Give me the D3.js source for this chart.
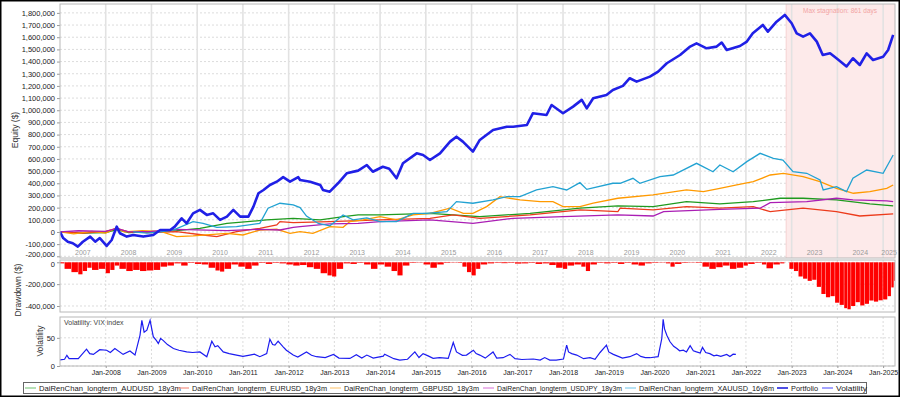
<!DOCTYPE html>
<html>
<head>
<meta charset="utf-8">
<script src="https://cdn.jsdelivr.net/npm/d3@7"></script>
<style>
body { margin: 0; background: #fff; }
text { font-family: "Liberation Sans", Arial, sans-serif; }
</style>
</head>
<body>
<div id="chart"></div>
<script>
// values, [decimal year, $]
const portfolio = [[2007.0,0],[2007.07,-50000],[2007.17,-80000],[2007.28,-93000],[2007.39,-120000],[2007.5,-80000],[2007.66,-38000],[2007.77,-80000],[2007.87,-50000],[2008.02,-115000],[2008.13,-66000],[2008.24,44000],[2008.31,-11000],[2008.46,-38000],[2008.6,-25000],[2008.82,-38000],[2009.04,-25000],[2009.19,16000],[2009.41,16000],[2009.51,44000],[2009.66,112000],[2009.77,71000],[2009.91,153000],[2010.06,181000],[2010.21,140000],[2010.35,153000],[2010.5,99000],[2010.65,126000],[2010.79,181000],[2010.94,126000],[2011.12,126000],[2011.23,208000],[2011.34,318000],[2011.45,345000],[2011.59,386000],[2011.74,413000],[2011.88,450000],[2012.03,413000],[2012.21,450000],[2012.25,427000],[2012.47,413000],[2012.69,386000],[2012.75,345000],[2012.9,331000],[2013.08,400000],[2013.27,482000],[2013.52,504000],[2013.71,550000],[2013.84,495000],[2014.06,536000],[2014.2,520000],[2014.36,441000],[2014.5,564000],[2014.8,646000],[2014.94,632000],[2015.09,591000],[2015.31,646000],[2015.53,742000],[2015.67,783000],[2015.81,742000],[2016.03,660000],[2016.18,756000],[2016.47,838000],[2016.77,865000],[2016.91,865000],[2017.21,879000],[2017.34,975000],[2017.64,961000],[2017.75,1043000],[2018.0,975000],[2018.22,1030000],[2018.41,1085000],[2018.52,1016000],[2018.66,1098000],[2018.95,1126000],[2019.09,1167000],[2019.31,1200000],[2019.46,1263000],[2019.61,1235000],[2019.9,1276000],[2020.08,1317000],[2020.27,1386000],[2020.56,1454000],[2020.78,1523000],[2020.92,1550000],[2021.14,1509000],[2021.36,1523000],[2021.47,1556000],[2021.58,1495000],[2021.87,1528000],[2022.02,1564000],[2022.15,1632000],[2022.37,1701000],[2022.48,1646000],[2022.67,1728000],[2022.85,1783000],[2023.0,1715000],[2023.11,1632000],[2023.25,1605000],[2023.4,1632000],[2023.55,1564000],[2023.68,1454000],[2023.84,1468000],[2023.98,1427000],[2024.2,1360000],[2024.34,1427000],[2024.49,1372000],[2024.64,1468000],[2024.78,1413000],[2025.0,1440000],[2025.11,1495000],[2025.22,1619000]];

const audusd = [[2007.0,0],[2007.5,-10000],[2008.0,-5000],[2008.24,20000],[2008.5,-5000],[2009.0,0],[2009.55,11000],[2010.06,30000],[2010.65,71000],[2011.1,85000],[2011.52,99000],[2012.1,112000],[2012.69,99000],[2013.2,126000],[2013.52,140000],[2014.0,140000],[2015.09,153000],[2016.18,126000],[2017.28,153000],[2018.37,195000],[2019.2,214000],[2019.97,208000],[2020.7,249000],[2021.43,230000],[2022.16,249000],[2022.75,277000],[2023.25,277000],[2023.98,263000],[2024.71,230000],[2025.22,214000]];

const eurusd = [[2007.0,0],[2007.5,-10000],[2008.0,5000],[2008.24,30000],[2008.5,0],[2009.0,-5000],[2009.55,3000],[2010.13,-25000],[2010.43,-38000],[2010.86,3000],[2011.37,30000],[2011.74,58000],[2011.81,85000],[2012.1,77000],[2012.9,85000],[2014.0,99000],[2015.09,112000],[2015.6,140000],[2016.18,112000],[2017.28,140000],[2018.37,181000],[2019.2,167000],[2019.25,195000],[2019.97,181000],[2020.7,208000],[2021.43,195000],[2022.16,208000],[2022.53,167000],[2023.25,195000],[2023.98,167000],[2024.49,131000],[2025.22,148000]];

const gbpusd = [[2007.0,0],[2007.3,-15000],[2007.7,5000],[2008.0,-10000],[2008.24,35000],[2008.4,0],[2008.8,10000],[2009.2,5000],[2009.55,-38000],[2009.91,-33000],[2010.65,-11000],[2011.0,-25000],[2011.37,16000],[2011.74,22000],[2012.03,-11000],[2012.25,3000],[2012.53,-11000],[2012.9,44000],[2013.19,38000],[2013.34,85000],[2013.63,99000],[2014.0,126000],[2014.36,99000],[2014.72,140000],[2015.09,153000],[2015.53,195000],[2015.82,153000],[2016.03,153000],[2016.33,208000],[2016.62,290000],[2017.06,263000],[2017.5,249000],[2017.78,249000],[2018.0,208000],[2018.37,208000],[2018.66,236000],[2019.2,277000],[2019.97,304000],[2020.7,345000],[2021.07,331000],[2021.43,359000],[2021.8,386000],[2022.16,413000],[2022.53,468000],[2022.82,482000],[2023.25,454000],[2023.62,413000],[2023.98,359000],[2024.35,318000],[2024.71,331000],[2025.08,359000],[2025.22,386000]];

const usdjpy = [[2007.0,0],[2007.4,10000],[2008.0,5000],[2008.24,30000],[2008.5,0],[2009.0,5000],[2009.55,22000],[2010.65,11000],[2011.37,22000],[2011.81,16000],[2012.1,38000],[2012.25,44000],[2012.9,66000],[2013.52,71000],[2014.0,85000],[2015.09,99000],[2016.03,71000],[2016.91,112000],[2018.0,126000],[2019.2,140000],[2019.97,131000],[2020.2,167000],[2021.43,186000],[2022.31,195000],[2022.53,241000],[2023.33,249000],[2023.98,277000],[2024.34,263000],[2025.08,256000],[2025.22,249000]];

const xauusd = [[2008.6,0],[2008.9,-10000],[2009.2,0],[2009.5,20000],[2009.91,85000],[2010.13,71000],[2010.43,38000],[2010.86,44000],[2011.37,71000],[2011.55,195000],[2011.81,236000],[2012.1,222000],[2012.25,200000],[2012.39,130000],[2012.65,70000],[2012.9,50000],[2013.0,80000],[2013.19,140000],[2013.41,99000],[2013.71,115000],[2014.0,85000],[2014.36,85000],[2014.72,153000],[2015.02,153000],[2015.46,167000],[2015.67,249000],[2016.03,236000],[2016.47,263000],[2016.77,290000],[2017.06,290000],[2017.42,345000],[2017.78,372000],[2018.08,345000],[2018.37,405000],[2018.52,350000],[2019.09,400000],[2019.25,400000],[2019.53,441000],[2019.68,400000],[2020.12,454000],[2020.41,468000],[2020.92,564000],[2021.28,495000],[2021.43,550000],[2021.72,495000],[2022.02,578000],[2022.31,646000],[2022.6,605000],[2022.81,591000],[2023.03,495000],[2023.33,482000],[2023.62,427000],[2023.69,345000],[2023.98,372000],[2024.2,331000],[2024.34,441000],[2024.64,509000],[2025.0,482000],[2025.22,632000]];

const drawdown = [[2007.0,-10000],[2007.1,-60000],[2007.25,-90000],[2007.4,-110000],[2007.5,-80000],[2007.6,-50000],[2007.7,-70000],[2007.85,-60000],[2008.0,-100000],[2008.1,-70000],[2008.2,-30000],[2008.3,-60000],[2008.45,-80000],[2008.6,-70000],[2008.75,-80000],[2008.9,-75000],[2009.05,-70000],[2009.2,-40000],[2009.35,-30000],[2009.5,-10000],[2009.65,-30000],[2009.8,-5000],[2009.95,-15000],[2010.1,-20000],[2010.25,-50000],[2010.4,-75000],[2010.5,-85000],[2010.6,-60000],[2010.75,-20000],[2010.9,-40000],[2011.05,-60000],[2011.2,-30000],[2011.35,-5000],[2011.5,-15000],[2011.65,-5000],[2011.8,-10000],[2011.95,-20000],[2012.1,-30000],[2012.25,-25000],[2012.4,-45000],[2012.55,-60000],[2012.7,-100000],[2012.85,-120000],[2012.95,-130000],[2013.05,-60000],[2013.2,-10000],[2013.35,-15000],[2013.5,-5000],[2013.65,-20000],[2013.8,-60000],[2013.95,-20000],[2014.1,-40000],[2014.25,-80000],[2014.38,-120000],[2014.5,-30000],[2014.65,-5000],[2014.8,-3000],[2014.95,-20000],[2015.1,-50000],[2015.25,-20000],[2015.4,-5000],[2015.55,-3000],[2015.7,-5000],[2015.8,-40000],[2015.9,-90000],[2016.0,-120000],[2016.1,-60000],[2016.2,-20000],[2016.35,-10000],[2016.5,-5000],[2016.65,-8000],[2016.8,-5000],[2016.95,-12000],[2017.1,-10000],[2017.25,-5000],[2017.4,-15000],[2017.55,-10000],[2017.7,-25000],[2017.85,-50000],[2018.0,-60000],[2018.1,-30000],[2018.25,-20000],[2018.4,-40000],[2018.5,-80000],[2018.6,-20000],[2018.75,-5000],[2018.9,-10000],[2019.05,-5000],[2019.2,-15000],[2019.35,-5000],[2019.5,-20000],[2019.65,-30000],[2019.8,-10000],[2019.95,-5000],[2020.1,-3000],[2020.25,-10000],[2020.35,-40000],[2020.45,-15000],[2020.6,-5000],[2020.75,-3000],[2020.9,-5000],[2021.05,-40000],[2021.2,-60000],[2021.35,-45000],[2021.5,-30000],[2021.65,-60000],[2021.8,-50000],[2021.95,-30000],[2022.05,-15000],[2022.2,-5000],[2022.35,-20000],[2022.45,-55000],[2022.6,-20000],[2022.75,-10000],[2022.85,0],[2022.95,-60000],[2023.05,-80000],[2023.15,-130000],[2023.25,-150000],[2023.35,-170000],[2023.45,-160000],[2023.55,-225000],[2023.65,-290000],[2023.75,-320000],[2023.85,-310000],[2023.95,-370000],[2024.05,-390000],[2024.15,-420000],[2024.22,-430000],[2024.3,-400000],[2024.4,-365000],[2024.5,-395000],[2024.6,-380000],[2024.7,-350000],[2024.8,-360000],[2024.9,-348000],[2025.0,-340000],[2025.1,-310000],[2025.18,-230000],[2025.24,-170000]];

const vix = [[2007.0,11],[2007.1,12],[2007.15,19],[2007.2,13],[2007.4,13],[2007.58,30],[2007.65,22],[2007.73,20.5],[2007.87,29],[2008.02,28],[2008.1,24],[2008.2,31],[2008.38,20.6],[2008.53,26.5],[2008.64,19.4],[2008.75,55],[2008.79,81],[2008.84,60],[2008.9,63.5],[2008.97,81],[2009.04,52],[2009.11,45],[2009.15,40],[2009.2,49],[2009.26,45],[2009.35,38],[2009.48,31],[2009.6,28],[2009.77,25],[2009.9,24],[2010.06,25],[2010.21,16.5],[2010.32,44],[2010.39,34],[2010.45,36],[2010.57,25],[2010.7,22],[2010.86,19.4],[2011.0,17],[2011.15,19.4],[2011.25,21],[2011.37,16.5],[2011.52,22],[2011.59,47.6],[2011.65,38],[2011.7,37],[2011.77,44],[2011.88,34],[2011.95,28],[2012.1,19.4],[2012.2,16],[2012.39,25],[2012.5,19],[2012.61,16.5],[2012.8,15],[2012.98,20.6],[2013.1,14],[2013.34,13.5],[2013.48,20],[2013.6,14],[2013.71,19.4],[2013.85,14],[2014.07,17.6],[2014.1,21],[2014.3,13],[2014.43,10.6],[2014.6,12],[2014.76,25],[2014.85,15],[2014.94,22],[2015.05,18],[2015.16,13.5],[2015.3,15],[2015.49,13.5],[2015.6,41.8],[2015.67,25],[2015.8,19],[2015.89,19.4],[2016.04,28],[2016.1,22],[2016.18,19.4],[2016.3,14],[2016.47,25],[2016.55,14],[2016.69,14.7],[2016.84,20.6],[2016.95,13],[2017.1,11.5],[2017.35,12.4],[2017.5,10.5],[2017.6,15],[2017.71,10.6],[2017.85,10.5],[2018.01,12.4],[2018.08,37],[2018.12,25],[2018.19,22],[2018.3,19.4],[2018.45,13],[2018.59,14.7],[2018.7,12],[2018.81,24],[2018.95,37],[2019.0,25],[2019.1,20.6],[2019.3,14],[2019.46,16.5],[2019.61,22],[2019.7,17],[2019.8,15],[2019.9,14.7],[2020.08,16.5],[2020.16,48.8],[2020.19,83],[2020.22,66],[2020.27,54.7],[2020.34,43],[2020.42,35],[2020.49,31],[2020.55,27],[2020.63,28],[2020.7,25],[2020.78,36],[2020.85,27],[2020.92,25],[2021.0,23],[2021.05,33],[2021.12,24],[2021.21,22],[2021.3,18],[2021.36,19.4],[2021.45,17],[2021.58,20.6],[2021.65,17],[2021.72,21],[2021.78,20.6]];

const equityTicks = d3.range(-200000, 1800001, 100000);
const drawdownTicks = [0, -200000, -400000];
const vixTicks = [0, 50];
const yearLabels = d3.range(2007, 2026);
const janTicks = d3.range(2008, 2026);
const stagnationStart = 2022.88;
const stagnationText = "Max stagnation: 861 days";

const series = [
  {name: "DaiRenChan_longterm_AUDUSD_18y3m", data: audusd, color: "#1f9a1f", legend: "#8fd08f"},
  {name: "DaiRenChan_longterm_EURUSD_18y3m", data: eurusd, color: "#ec3b1c", legend: "#f59a8c"},
  {name: "DaiRenChan_longterm_GBPUSD_18y3m", data: gbpusd, color: "#ff9a00", legend: "#ffcf88"},
  {name: "DaiRenChan_longterm_USDJPY_18y3m", data: usdjpy, color: "#aa1eb4", legend: "#e090e0"},
  {name: "DaiRenChan_longterm_XAUUSD_16y8m", data: xauusd, color: "#22a2d2", legend: "#8ed2ee"}
];

const W = 900, H = 397;
const L = 60, R = 895;
const fmt = d3.formatLocale({decimal: ".", thousands: ",", grouping: [3], currency: ["$", ""], minus: "-"}).format(",");

const svg = d3.select("#chart").append("svg").attr("width", W).attr("height", H);

const x = d3.scaleLinear().domain([2007.0, 2025.26]).range([L, R]);
const yEq = d3.scaleLinear().domain([-214000, 1873000]).range([258, 4]);
const yDd = d3.scaleLinear().domain([-455000, 21000]).range([312, 260]);
const yVix = d3.scaleLinear().domain([0, 87]).range([366, 317]);

const defs = svg.append("defs");
function clip(id, y0, y1) {
  defs.append("clipPath").attr("id", id).append("rect").attr("x", L).attr("y", y0).attr("width", R - L).attr("height", y1 - y0);
}
clip("cEq", 4, 258); clip("cDd", 260, 312); clip("cVix", 317, 366);

function panel(y0, y1, yScale, ticks, dashedX, fontSize) {
  let g = svg.append("g");
  g.append("rect").attr("x", L).attr("y", y0).attr("width", R - L).attr("height", y1 - y0).attr("fill", "#fff");
  g.selectAll("line.h").data(ticks).join("line")
    .attr("x1", L).attr("x2", R).attr("y1", d => yScale(d)).attr("y2", d => yScale(d))
    .attr("stroke", "#dcdcdc").attr("stroke-dasharray", "2,2");
  if (dashedX) {
    g.selectAll("line.v").data(janTicks).join("line")
      .attr("x1", d => x(d)).attr("x2", d => x(d)).attr("y1", y0).attr("y2", y1)
      .attr("stroke", "#dcdcdc").attr("stroke-dasharray", "2,2");
  }
  let ax = svg.append("g").attr("transform", `translate(${L},0)`)
    .call(d3.axisLeft(yScale).tickValues(ticks).tickFormat(fmt).tickSize(3).tickPadding(2));
  ax.select(".domain").remove();
  ax.selectAll("line").attr("stroke", "#999");
  ax.selectAll("text").attr("font-size", fontSize).attr("fill", "#222").attr("font-family", '"Liberation Sans", Arial, sans-serif');
  return ax;
}

// main equity panel
const eqAxis = panel(4, 258, yEq, equityTicks, false, "7.5px");
eqAxis.selectAll(".tick text").filter(d => d === -200000).attr("dy", "0.05em");
svg.append("rect").attr("x", x(stagnationStart)).attr("y", 4).attr("width", R - x(stagnationStart)).attr("height", 254)
  .attr("fill", "#fdeaea");
svg.append("line").attr("x1", x(stagnationStart)).attr("x2", x(stagnationStart)).attr("y1", 4).attr("y2", 258)
  .attr("stroke", "#f6d2d2");
svg.selectAll("line.yr").data(janTicks).join("line")
  .attr("x1", d => x(d)).attr("x2", d => x(d)).attr("y1", 4).attr("y2", 258)
  .attr("stroke", "#e2e2e2").attr("stroke-width", 1.6);
svg.append("text").attr("x", 803).attr("y", 13).attr("font-size", "7.5px").attr("fill", "#f2a4a4")
  .attr("textLength", 74).attr("lengthAdjust", "spacingAndGlyphs").text(stagnationText);
svg.selectAll("text.yl").data(yearLabels).join("text")
  .attr("x", d => (x(Math.max(d, 2007)) + x(Math.min(d + 1, 2025.26))) / 2).attr("y", 255)
  .attr("text-anchor", "middle").attr("font-size", "7px").attr("fill", "#9a9a9a").text(d => d);

const line = d3.line().x(d => x(d[0])).y(d => yEq(d[1]));
const gl = svg.append("g").attr("clip-path", "url(#cEq)");
series.forEach(s => {
  gl.append("path").datum(s.data).attr("d", line).attr("fill", "none").attr("stroke", s.color).attr("stroke-width", 1.3);
});
gl.append("path").datum(portfolio).attr("d", line).attr("fill", "none").attr("stroke", "#2020e6")
  .attr("stroke-width", 2.6).attr("stroke-linejoin", "round");
svg.append("rect").attr("x", L).attr("y", 4).attr("width", R - L).attr("height", 254).attr("fill", "none").attr("stroke", "#b8b8b8");

// drawdown panel
const ddAxis = panel(260, 312, yDd, drawdownTicks, true, "7.5px");
ddAxis.selectAll(".tick text").filter(d => d === 0).attr("dy", "0.6em");
svg.append("g").attr("clip-path", "url(#cDd)").selectAll("rect").data(drawdown).join("rect")
  .attr("x", d => x(d[0]))
  .attr("width", (d, i) => i < drawdown.length - 1 ? Math.max(0.8, x(drawdown[i + 1][0]) - x(d[0]) - 0.4) : R - x(d[0]))
  .attr("y", yDd(0)).attr("height", d => yDd(d[1]) - yDd(0)).attr("fill", "#ff0000");
svg.append("rect").attr("x", L).attr("y", 260).attr("width", R - L).attr("height", 52).attr("fill", "none").attr("stroke", "#b8b8b8");

// volatility panel
panel(317, 366, yVix, vixTicks, true, "7.5px");
svg.append("g").attr("clip-path", "url(#cVix)").append("path").datum(vix)
  .attr("d", d3.line().x(d => x(d[0])).y(d => yVix(d[1])))
  .attr("fill", "none").attr("stroke", "#1c1cf0").attr("stroke-width", 1.2);
svg.append("rect").attr("x", L).attr("y", 317).attr("width", R - L).attr("height", 49).attr("fill", "none").attr("stroke", "#b8b8b8");
svg.append("text").attr("x", 64).attr("y", 325).attr("font-size", "7px").attr("fill", "#444").text("Volatility: VIX index");

let bx = svg.append("g").attr("transform", "translate(0,366)")
  .call(d3.axisBottom(x).tickValues(janTicks).tickFormat(d => "Jan-" + d).tickSize(2).tickPadding(2));
bx.select(".domain").remove();
bx.selectAll("line").attr("stroke", "#999");
bx.selectAll("text").attr("font-size", "7px").attr("fill", "#222").attr("font-family", '"Liberation Sans", Arial, sans-serif');

// axis titles
function title(txt, tx, ty) {
  svg.append("text").attr("transform", `translate(${tx},${ty}) rotate(-90)`).attr("text-anchor", "middle")
    .attr("font-size", "8.5px").attr("fill", "#333").text(txt);
}
title("Equity ($)", 18, 130);
title("Drawdown ($)", 21, 290);
title("Volatility", 43, 341);

// legend
const legendItems = series.map(s => ({name: s.name, color: s.legend, w: 1.3}))
  .concat([{name: "Portfolio", color: "#2222dd", w: 1.6}, {name: "Volatility", color: "#8c8cff", w: 1.6}]);
const legendX = [25, 178, 330, 483, 625, 777, 822];
const legendW = [142, 135, 135, 125, 135, 27, 31];
svg.append("rect").attr("x", 23.5).attr("y", 382.5).attr("width", 843).attr("height", 11).attr("fill", "#fff").attr("stroke", "#666");
const lg = svg.selectAll("g.lg").data(legendItems).join("g").attr("transform", (d, i) => `translate(${legendX[i]},388)`);
lg.append("line").attr("x1", 0).attr("x2", 11).attr("stroke", d => d.color).attr("stroke-width", d => d.w);
lg.append("text").attr("x", 14).attr("y", 2.6).attr("font-size", "7px").attr("fill", "#222")
  .attr("font-family", '"DejaVu Sans", sans-serif')
  .attr("textLength", (d, i) => legendW[i]).attr("lengthAdjust", "spacingAndGlyphs").text(d => d.name);

// outer frame
svg.append("rect").attr("x", 0.75).attr("y", 0.75).attr("width", W - 1.5).attr("height", H - 1.5).attr("fill", "none").attr("stroke", "#000").attr("stroke-width", 1.5);
</script>
</body>
</html>
